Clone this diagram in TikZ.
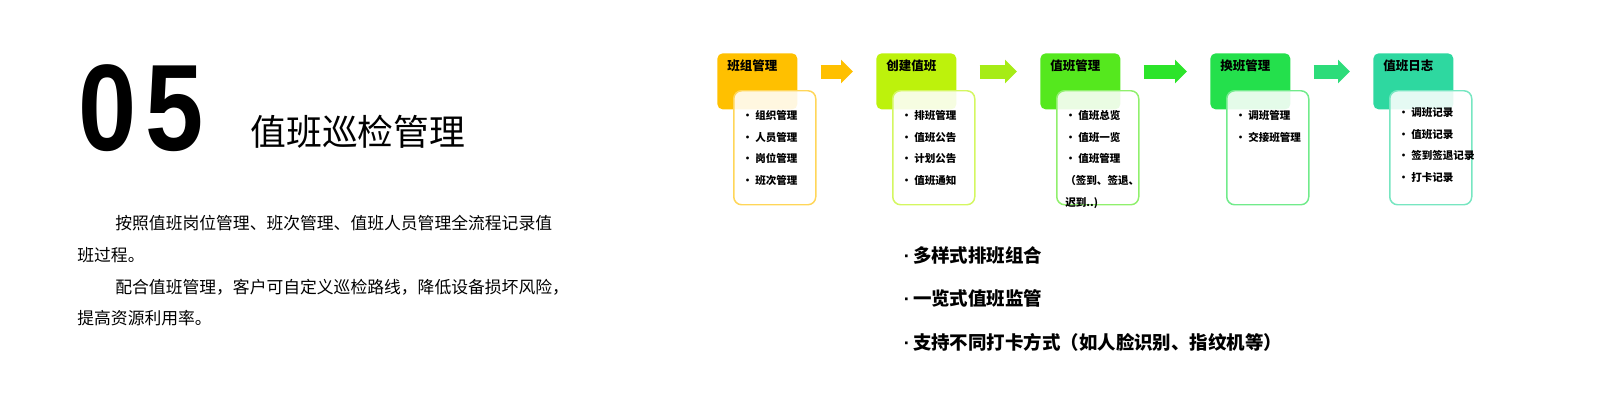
\documentclass[tikz,border=0pt]{standalone}
\usepackage{fontspec}
\setmainfont{Noto Sans CJK SC}
\newfontfamily\numfont{Liberation Sans}
\newfontfamily\bignumfont[FakeStretch=0.85]{Liberation Sans}
\usetikzlibrary{arrows.meta, positioning, calc}
\definecolor{cgold}{HTML}{FFC000}
\definecolor{clime}{HTML}{BDF20C}
\definecolor{cleaf}{HTML}{55E81E}
\definecolor{cgrass}{HTML}{24E04C}
\definecolor{cmint}{HTML}{2ED8A0}
\definecolor{alime}{HTML}{A6EC16}
\definecolor{aleaf}{HTML}{2CE42A}
\definecolor{agrass}{HTML}{2DDC7A}
\tikzset{
  head/.style={fill=#1, rounded corners=3pt, anchor=north west, minimum width=1.6cm, minimum height=1.12cm, inner sep=0pt},
  detail/.style={draw=#1!65, fill=white, fill opacity=0.88, line width=0.85pt, rounded corners=4.5pt, anchor=north west, minimum width=1.64cm, minimum height=2.28cm, inner sep=0pt},
  htext/.style={anchor=north west, inner sep=0pt, font=\bfseries\fontsize{7.1}{8}\selectfont},
  items/.style={anchor=north west, inner sep=0pt, align=left, font=\bfseries\fontsize{6}{12.35}\selectfont},
  flow/.style={draw=#1, line width=0.28cm, shorten <=0.08cm, shorten >=0.46cm, -{Triangle[length=0.24cm, width=0.46cm]}},
}
\newcommand{\dotmark}{{\numfont·}\,}

\begin{document}
\begin{tikzpicture}
  \useasboundingbox (0,0) rectangle (32.36,-8.34);
  % left column
  \node[anchor=base west, inner sep=0pt, font=\bignumfont\bfseries\fontsize{70}{70}\selectfont] (num) at (1.56,-3.0) {0\kern5pt 5};
  \node[anchor=west, inner sep=0pt, font=\fontsize{20.4}{24}\selectfont] (title) at (5.0,-2.64) {值班巡检管理};
  \node[anchor=north west, inner sep=0pt, align=left, font=\fontsize{9.56}{18.05}\selectfont] (intro) at (1.54,-4.30)
    {\hspace*{0.76cm}按照值班岗位管理、班次管理、值班人员管理全流程记录值\\班过程。\\\hspace*{0.76cm}配合值班管理，客户可自定义巡检路线，降低设备损坏风险，\\提高资源利用率。};
  % flow of steps
  \coordinate (lane) at (0,-1.43);
  \node[head=cgold]  (grp)  at (14.34,-1.06) {};
  \node[head=clime]  (plan) at (17.52,-1.06) {};
  \node[head=cleaf]  (duty) at (20.80,-1.06) {};
  \node[head=cgrass] (swap) at (24.20,-1.06) {};
  \node[head=cmint]  (log)  at (27.46,-1.06) {};
  \foreach \h/\t in {grp/班组管理, plan/创建值班, duty/值班管理, swap/换班管理, log/值班日志}
    \node[htext] (\h-t) at ([shift={(0.2,-0.12)}]\h.north west) {\t};
  \foreach \h/\c in {grp/cgold, plan/clime, duty/cleaf, swap/cgrass, log/cmint}
    \node[detail=\c] (\h-d) at ([shift={(0.32,-0.74)}]\h.north west) {};
  \node[items] (grp-l)  at ([shift={(0.18,-0.40)}]grp-d.north west)  {•\ 组织管理\\•\ 人员管理\\•\ 岗位管理\\•\ 班次管理};
  \node[items] (plan-l) at ([shift={(0.18,-0.40)}]plan-d.north west) {• 排班管理\\• 值班公告\\• 计划公告\\• 值班通知};
  \node[items] (duty-l) at ([shift={(0.18,-0.40)}]duty-d.north west) {• 值班总览\\• 值班一览\\• 值班管理\\（签到、签退、\\迟到..)};
  \node[items] (swap-l) at ([shift={(0.18,-0.40)}]swap-d.north west) {• 调班管理\\• 交接班管理};
  \node[items] (log-l)  at ([shift={(0.18,-0.34)}]log-d.north west)  {• 调班记录\\• 值班记录\\• 签到签退记录\\• 打卡记录};
  \foreach \a/\b/\c in {grp/plan/cgold, plan/duty/alime, duty/swap/aleaf, swap/log/agrass}
    \draw[flow=\c] (\a-d.east |- lane) -- (\b.west |- lane);
  % highlights
  \node[anchor=north west, inner sep=0pt, align=left, font=\bfseries\fontsize{10.5}{24.75}\selectfont] (feat) at (18.07,-4.92)
    {\dotmark 多样式排班组合\\\dotmark 一览式值班监管\\\dotmark 支持不同打卡方式（如人脸识别、指纹机等）};
\end{tikzpicture}
\end{document}
